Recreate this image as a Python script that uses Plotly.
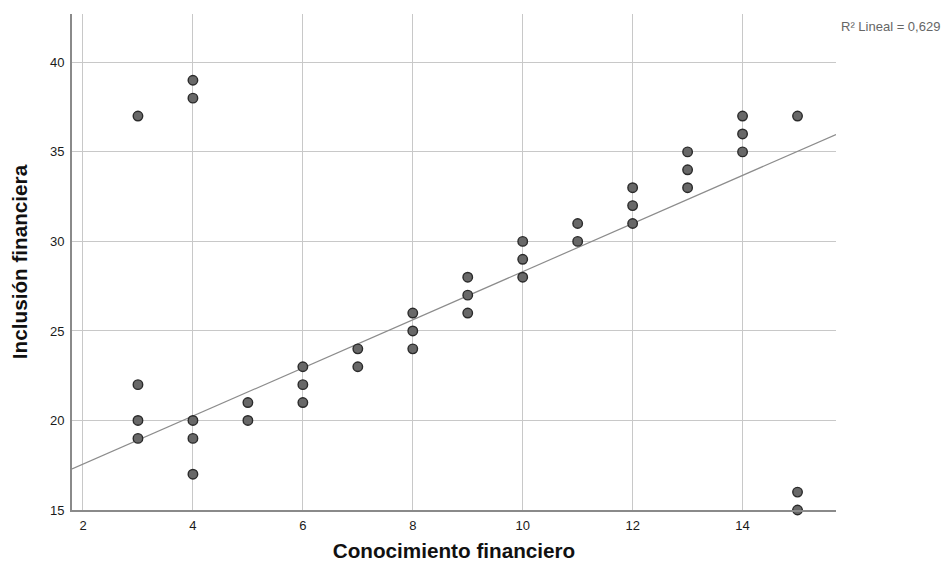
import plotly.graph_objects as go

conocimiento = [3, 3, 3, 3,
                4, 4, 4, 4, 4,
                5, 5,
                6, 6, 6,
                7, 7,
                8, 8, 8,
                9, 9, 9,
                10, 10, 10,
                11, 11,
                12, 12, 12,
                13, 13, 13,
                14, 14, 14,
                15, 15, 15]
inclusion = [37, 22, 20, 19,
             39, 38, 20, 19, 17,
             21, 20,
             23, 22, 21,
             24, 23,
             26, 25, 24,
             28, 27, 26,
             30, 29, 28,
             31, 30,
             33, 32, 31,
             35, 34, 33,
             37, 36, 35,
             37, 16, 15]

fit_intercept = 14.87
fit_slope = 1.344
r2_label = "R² Lineal = 0,629"
x_range = [1.8, 15.7]
y_range = [15, 42.7]
x_ticks = [2, 4, 6, 8, 10, 12, 14]
y_ticks = [15, 20, 25, 30, 35, 40]

fig = go.Figure()
fig.add_trace(go.Scatter(
    x=x_range,
    y=[fit_intercept + fit_slope * v for v in x_range],
    mode="lines",
    line=dict(color="#8c8c8c", width=1.2),
    hoverinfo="skip",
    showlegend=False,
))
fig.add_trace(go.Scatter(
    x=conocimiento, y=inclusion, mode="markers",
    marker=dict(size=9.5, color="#686868", line=dict(color="#2a2a2a", width=1.4)),
    showlegend=False, cliponaxis=False,
))

fig.update_layout(
    width=943, height=559,
    margin=dict(l=64, r=115, t=6, b=57, autoexpand=False),
    paper_bgcolor="white", plot_bgcolor="white",
    font=dict(family="Arial, Liberation Sans, sans-serif", color="#1a1a1a", size=13),
    xaxis=dict(
        range=x_range, tickvals=x_ticks, showgrid=True, gridcolor="#c8c8c8", gridwidth=1,
        zeroline=False, showline=True, linecolor="#8a8a8a", linewidth=2,
        ticks="", ticklabelstandoff=2,
        title=dict(text="<b>Conocimiento financiero</b>", font=dict(size=20.7, color="#111111"), standoff=12),
    ),
    yaxis=dict(
        range=y_range, tickvals=y_ticks, showgrid=True, gridcolor="#c8c8c8", gridwidth=1,
        zeroline=False, showline=True, linecolor="#8a8a8a", linewidth=2,
        ticks="", ticklabelstandoff=3,
        title=dict(text="<b>Inclusión financiera</b>", font=dict(size=20.7, color="#111111"), standoff=22),
    ),
    annotations=[dict(
        text=r2_label, xref="paper", yref="paper", x=1.0, y=1.0,
        xanchor="left", yanchor="top", xshift=3, yshift=-3,
        showarrow=False, font=dict(size=13, color="#666666"),
    )],
)

fig.write_html("out.html")
